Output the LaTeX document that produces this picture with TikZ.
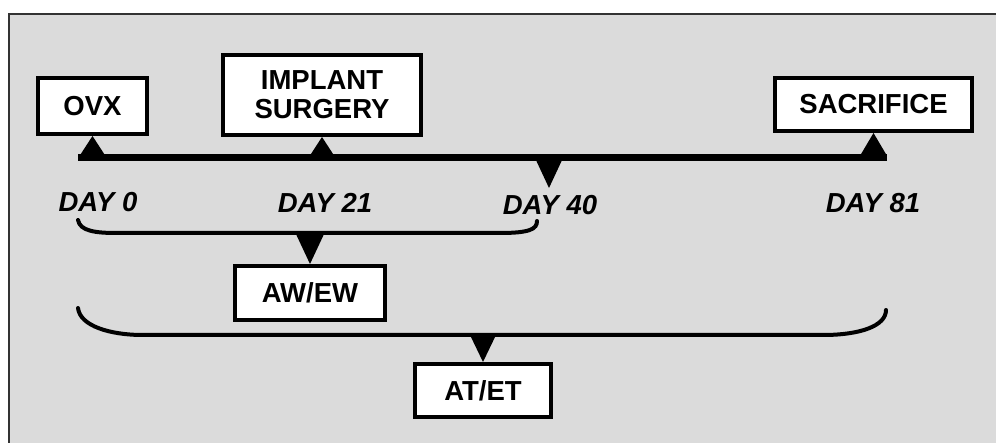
\documentclass[tikz,border=0pt]{standalone}
\usepackage{fontspec}
\setmainfont{Liberation Sans}
\usetikzlibrary{calc}
\tikzset{
  stagebox/.style={draw=black, fill=white, line width=4pt, inner sep=0pt,
    align=center, font=\fontsize{27.5}{29}\selectfont\bfseries},
  daylabel/.style={font=\fontsize{27.5}{29}\selectfont\bfseries\itshape},
  bracket/.style={line width=4pt, line cap=round},
}

\begin{document}
\begin{tikzpicture}[x=1pt,y=-1pt]
			%%%%% PANEL %%%%%
			\useasboundingbox (0,0) rectangle (996,443);
			\fill[white] (0,0) rectangle (996,443);
			\fill[black!14] (9,14) rectangle (996,443);
			\draw[black!80, line width=1.6pt] (8.8,443) -- (8.8,14) -- (996,14);
			
			%%%%% STAGES %%%%%
			\node[stagebox, minimum width=109pt, minimum height=56pt] (ovx) at (92.5,106) {OVX};
			\node[stagebox, minimum width=198pt, minimum height=80pt] (implant) at (322,95) {IMPLANT\\SURGERY};
			\node[stagebox, minimum width=197pt, minimum height=53pt] (sacrifice) at (873.5,104.5) {SACRIFICE};
			\node[stagebox, minimum width=150pt, minimum height=54pt] (awew) at (310,293) {AW/EW};
			\node[stagebox, minimum width=136pt, minimum height=53pt] (atet) at (483,390.5) {AT/ET};
			
			%%%%% TIMELINE %%%%%
			\coordinate (t0) at (78,158);
			\coordinate (t1) at (887,158);
			\coordinate (d40) at (549,158);
			\draw[line width=7pt] (t0) -- (t1);
			
			\fill (ovx.south) -- ++(13,20) -- ++(-26,0) -- cycle;
			\fill (implant.south) -- ++(13,20) -- ++(-26,0) -- cycle;
			\fill (sacrifice.south) -- ++(13,22) -- ++(-26,0) -- cycle;
			\fill ($(d40)+(-14,0)$) -- ($(d40)+(14,0)$) -- ($(d40)+(0,30)$) -- cycle;
			
			\node[daylabel] (day0) at (98,202) {DAY 0};
			\node[daylabel] (day21) at (325,203) {DAY 21};
			\node[daylabel] (day40) at (550,205) {DAY 40};
			\node[daylabel] (day81) at (873,203) {DAY 81};
			
			%%%%% BRACKETS %%%%%
			\draw[bracket] (78,220) .. controls (80,231) and (95,233) .. (117,233) -- (500,233) .. controls (530,233) and (537,229) .. (537,221);
			\fill (awew.north) -- ++(-15,-32) -- ++(30,0) -- cycle;
			
			\draw[bracket] (78,308) .. controls (80,326) and (110,335) .. (143,335) -- (823,335) .. controls (860,335) and (886,326) .. (886,310);
			\fill (atet.north) -- ++(-13,-27) -- ++(26,0) -- cycle;
			
\end{tikzpicture}
\end{document}
